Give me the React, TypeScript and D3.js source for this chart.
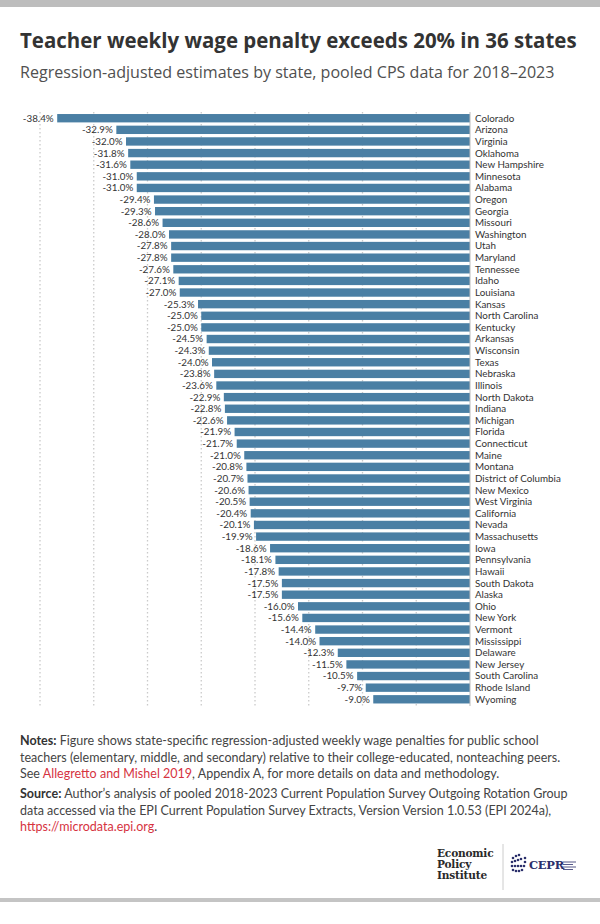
import React, { useEffect, useRef } from "react";
import * as d3 from "d3";

const states = [
  "Colorado", "Arizona", "Virginia", "Oklahoma", "New Hampshire", "Minnesota", "Alabama",
  "Oregon", "Georgia", "Missouri", "Washington", "Utah", "Maryland", "Tennessee", "Idaho",
  "Louisiana", "Kansas", "North Carolina", "Kentucky", "Arkansas", "Wisconsin", "Texas",
  "Nebraska", "Illinois", "North Dakota", "Indiana", "Michigan", "Florida", "Connecticut",
  "Maine", "Montana", "District of Columbia", "New Mexico", "West Virginia", "California",
  "Nevada", "Massachusetts", "Iowa", "Pennsylvania", "Hawaii", "South Dakota", "Alaska",
  "Ohio", "New York", "Vermont", "Mississippi", "Delaware", "New Jersey", "South Carolina",
  "Rhode Island", "Wyoming",
];

const penalties = [
  -38.4, -32.9, -32.0, -31.8, -31.6, -31.0, -31.0,
  -29.4, -29.3, -28.6, -28.0, -27.8, -27.8, -27.6, -27.1,
  -27.0, -25.3, -25.0, -25.0, -24.5, -24.3, -24.0,
  -23.8, -23.6, -22.9, -22.8, -22.6, -21.9, -21.7,
  -21.0, -20.8, -20.7, -20.6, -20.5, -20.4,
  -20.1, -19.9, -18.6, -18.1, -17.8, -17.5, -17.5,
  -16.0, -15.6, -14.4, -14.0, -12.3, -11.5, -10.5,
  -9.7, -9.0,
];

const gridTicks = [-40, -35, -30, -25, -20, -15, -10, -5];

const titleText = "Teacher weekly wage penalty exceeds 20% in 36 states";
const subtitleText = "Regression-adjusted estimates by state, pooled CPS data for 2018\u20132023";

const W = 600;
const H = 924;
const FONT = "Lato, 'Open Sans', sans-serif";
const HEAD_FONT = "'Open Sans', Lato, sans-serif";

function fitWidth(el: SVGTextElement | null, base: number, target: number) {
  if (!el) return base;
  const w = el.getComputedTextLength();
  if (!w) return base;
  const s = (base * target) / w;
  el.setAttribute("font-size", String(s));
  return s;
}

export default function App() {
  const ref = useRef<SVGSVGElement | null>(null);

  useEffect(() => {
    const svg = d3.select(ref.current);
    svg.selectAll("*").remove();

    svg.append("rect").attr("x", 0).attr("y", 0).attr("width", W).attr("height", 7).attr("fill", "#bdbdbd");
    svg.append("rect").attr("x", 0).attr("y", 898).attr("width", W).attr("height", 4).attr("fill", "#c4c4c4");

    const title = svg.append("text").attr("x", 20).attr("y", 48)
      .attr("font-family", HEAD_FONT).attr("font-weight", 700).attr("font-size", 21)
      .attr("fill", "#333").text(titleText);
    fitWidth(title.node(), 21, 557);
    const sub = svg.append("text").attr("x", 20).attr("y", 78)
      .attr("font-family", HEAD_FONT).attr("font-size", 15.5)
      .attr("fill", "#505050").text(subtitleText);
    fitWidth(sub.node(), 15.5, 535);

    const x = d3.scaleLinear().domain([-40, 0]).range([40, 470]);
    const y = d3.scaleBand<string>().domain(states).range([112.4, 705.1])
      .paddingInner(0.28).paddingOuter(0.14);

    const data = states.map((s, i) => ({ s, v: penalties[i] }));

    const g = svg.append("g");
    g.selectAll("line.grid").data(gridTicks).join("line")
      .attr("class", "grid")
      .attr("x1", (d) => x(d)).attr("x2", (d) => x(d))
      .attr("y1", 112).attr("y2", 706)
      .attr("stroke", "#cacaca").attr("stroke-width", 1.3)
      .attr("stroke-dasharray", "1.5,2.5");

    g.selectAll("rect.bar").data(data).join("rect")
      .attr("class", "bar")
      .attr("x", (d) => x(d.v))
      .attr("y", (d) => y(d.s)!)
      .attr("width", (d) => x(0) - x(d.v))
      .attr("height", y.bandwidth())
      .attr("fill", "#4a7fa4");

    g.append("line").attr("x1", x(0)).attr("x2", x(0)).attr("y1", 112).attr("y2", 706)
      .attr("stroke", "#bbb").attr("stroke-width", 1);

    g.selectAll("text.val").data(data).join("text")
      .attr("class", "val")
      .attr("x", (d) => x(d.v) - 3.5)
      .attr("y", (d) => y(d.s)! + y.bandwidth() / 2)
      .attr("dy", "0.35em")
      .attr("text-anchor", "end")
      .attr("font-family", FONT).attr("font-size", 9.8).attr("fill", "#333")
      .text((d) => d.v.toFixed(1) + "%");

    g.selectAll("text.lab").data(data).join("text")
      .attr("class", "lab")
      .attr("x", x(0) + 5)
      .attr("y", (d) => y(d.s)! + y.bandwidth() / 2)
      .attr("dy", "0.35em")
      .attr("font-family", FONT).attr("font-size", 9.8).attr("fill", "#333")
      .text((d) => d.s);

    // notes
    const notes = svg.append("g").attr("font-family", FONT).attr("font-size", 12.4).attr("fill", "#444");
    const red = "#d6333f";
    const lines: SVGTextElement[] = [];
    const addLine = (yy: number, parts: { t: string; b?: boolean; c?: string }[]) => {
      const t = notes.append("text").attr("x", 20).attr("y", yy);
      parts.forEach((p) => {
        const ts = t.append("tspan").text(p.t);
        if (p.b) ts.attr("font-weight", 700).attr("fill", "#333");
        if (p.c) ts.attr("fill", p.c);
      });
      lines.push(t.node() as SVGTextElement);
    };
    addLine(745, [{ t: "Notes:", b: true }, { t: " Figure shows state-specific regression-adjusted weekly wage penalties for public school" }]);
    addLine(761.5, [{ t: "teachers (elementary, middle, and secondary) relative to their college-educated, nonteaching peers." }]);
    addLine(778, [{ t: "See " }, { t: "Allegretto and Mishel 2019", c: red }, { t: ", Appendix A, for more details on data and methodology." }]);
    addLine(798, [{ t: "Source:", b: true }, { t: " Author\u2019s analysis of pooled 2018-2023 Current Population Survey Outgoing Rotation Group" }]);
    addLine(814.5, [{ t: "data accessed via the EPI Current Population Survey Extracts, Version Version 1.0.53 (EPI 2024a)," }]);
    addLine(831, [{ t: "https://microdata.epi.org", c: red }, { t: "." }]);
    const w2 = lines[1].getComputedTextLength();
    if (w2) notes.attr("font-size", (12.4 * 540) / w2);

    // logos
    const logo = svg.append("g");
    const serif = "'DejaVu Serif', 'Liberation Serif', serif";
    ["Economic", "Policy", "Institute"].forEach((w, i) => {
      logo.append("text").attr("x", 437).attr("y", 857 + i * 10.8)
        .attr("font-family", serif).attr("font-weight", 700).attr("font-size", 10.6)
        .attr("fill", "#2a2a2a").attr("letter-spacing", -0.2).text(w);
    });
    logo.append("line").attr("x1", 503).attr("x2", 503).attr("y1", 844).attr("y2", 890)
      .attr("stroke", "#ccc").attr("stroke-width", 1);
    const navy = "#2b2f6b";
    const dots = [[513, 858], [516, 856], [519, 855], [512, 862], [515, 861], [518, 860], [521, 859],
      [512, 866], [515, 866], [518, 866], [521, 866], [524, 866], [513, 870], [516, 871], [519, 871], [522, 870], [525, 862], [525, 858]];
    logo.selectAll("circle.d").data(dots).join("circle").attr("class", "d")
      .attr("cx", (d) => d[0]).attr("cy", (d) => d[1]).attr("r", 1.3).attr("fill", navy);
    logo.append("text").attr("x", 529).attr("y", 869)
      .attr("font-family", serif).attr("font-weight", 700).attr("font-size", 11.5)
      .attr("fill", navy).attr("letter-spacing", -0.3).text("CEPR");
    [862, 864.5, 867, 869.5].forEach((yy, i) => {
      logo.append("line").attr("x1", 563).attr("x2", 576 - (i % 2) * 3).attr("y1", yy).attr("y2", yy)
        .attr("stroke", navy).attr("stroke-width", 0.8);
    });
  }, []);

  return (
    <div style={{ position: "absolute", left: 0, top: 0, width: W, height: H, background: "#fff" }}>
      <svg ref={ref} width={W} height={H} viewBox={`0 0 ${W} ${H}`} />
    </div>
  );
}
